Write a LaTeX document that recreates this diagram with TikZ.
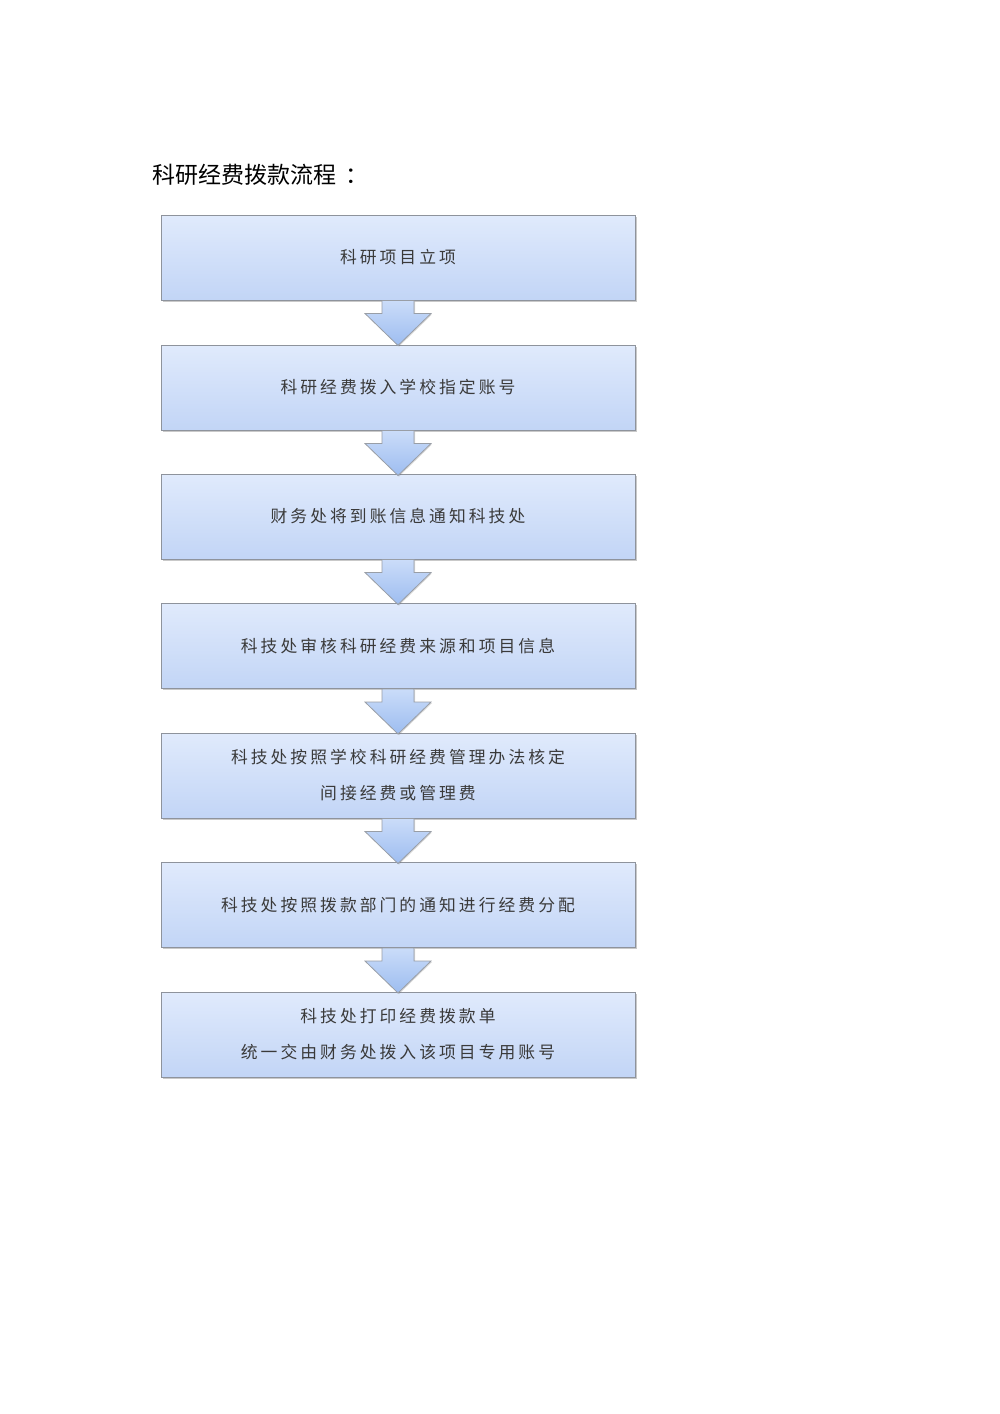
\documentclass[tikz,border=0pt]{standalone}
\usepackage{fontspec}
\newfontfamily\titlefont{Noto Sans CJK SC}
\newfontfamily\boxfont[LetterSpace=18]{Noto Sans CJK SC}
\usetikzlibrary{shadows}
\definecolor{boxtop}{HTML}{E0EAFC}
\definecolor{boxbot}{HTML}{C2D5F6}
\definecolor{boxline}{HTML}{8E939C}
\definecolor{arrtop}{HTML}{CADCF9}
\definecolor{arrbot}{HTML}{9DBDF0}
\definecolor{txt}{HTML}{3A3A3A}
\tikzset{
  stepbox/.style={draw=boxline, line width=1pt, top color=boxtop, bottom color=boxbot,
    minimum width=474pt, minimum height=85pt, inner sep=0pt, align=center,
    font=\boxfont\fontsize{16.8pt}{36pt}\selectfont, text=txt,
    drop shadow={shadow xshift=1.5pt, shadow yshift=-1.5pt, opacity=0.35, fill=black!60}},
  downarrow/.style={draw=boxline!90, line width=0.8pt, top color=arrtop, bottom color=arrbot, line join=miter,
    drop shadow={shadow xshift=1pt, shadow yshift=-1pt, opacity=0.25, fill=black!60}}
}
\newcommand{\flowarrow}[1]{%
  \path[downarrow] ([xshift=-16pt]#1.south) -- ++(32,0) -- ++(0,13) -- ++(17,0) -- ++(-33,32) -- ++(-33,-32) -- ++(17,0) -- cycle;}
\begin{document}
\begin{tikzpicture}[x=1pt,y=-1pt]
\useasboundingbox[fill=white] (0,0) rectangle (1000,1414);
\node[anchor=west, font=\titlefont\fontsize{23pt}{28pt}\selectfont, text=black] (title) at (149,175) {科研经费拨款流程\kern9pt：};
\node[stepbox] (b1) at (398,257.5) {科研项目立项};
\node[stepbox] (b2) at (398,387.5) {科研经费拨入学校指定账号};
\node[stepbox] (b3) at (398,516.5) {财务处将到账信息通知科技处};
\node[stepbox] (b4) at (398,646) {科技处审核科研经费来源和项目信息};
\node[stepbox] (b5) at (398,775.5) {科技处按照学校科研经费管理办法核定\\间接经费或管理费};
\node[stepbox] (b6) at (398,905) {科技处按照拨款部门的通知进行经费分配};
\node[stepbox] (b7) at (398,1034.5) {科技处打印经费拨款单\\统一交由财务处拨入该项目专用账号};
\flowarrow{b1}
\flowarrow{b2}
\flowarrow{b3}
\flowarrow{b4}
\flowarrow{b5}
\flowarrow{b6}
\end{tikzpicture}
\end{document}
